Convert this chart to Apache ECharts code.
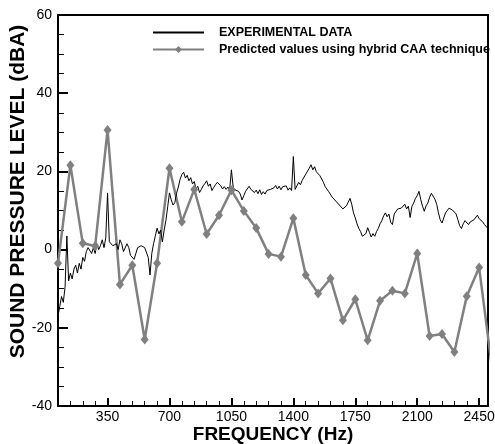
<!DOCTYPE html>
<html>
<head>
<meta charset="utf-8">
<script src="https://cdn.jsdelivr.net/npm/echarts@6/dist/echarts.min.js"></script>
<style>
  html, body { margin: 0; padding: 0; background: #fff; }
  #chart { width: 495px; height: 444px; }
</style>
</head>
<body>
<div id="chart"></div>
<script>
// 频率轴刻度（主刻度带标签）
var xTickLabels = [350, 700, 1050, 1400, 1750, 2100, 2450];

// 实测数据：从 70 Hz 起，每 10 Hz 一个读数 (dBA)
var expStartHz = 70;
var expStepHz = 10;
var expValues = [
    -17, -14.5, -12, -13.5, -9.5, 3.5, -8, -6, -7.5, -5,
    -4, -6, -3.5, -5, -2, -3, -0.5, 0.5, 1, -1,
    0.5, -1, 1.5, 0, 1, 2.5, 0.5, 3, 14.5, 2,
    2, 1, 0.5, 1.5, 0, 2.5, 1.5, -0.5, 0, 1.5,
    0.5, -1.5, -1, -2.5, -1, 0.5, 0, 1, 1.5, 0.5,
    1, -2, -6.5, -1, 1.5, 3.5, 5.5, 4, 5, 2,
    5, 7.5, 11, 14.5, 12.7, 11.4, 12, 14.4, 16, 18,
    19.2, 19.8, 18.3, 19.0, 17.6, 18.4, 16.8, 17.4, 15.6, 16.2,
    14.6, 15.4, 16.3, 16.9, 17.6, 16.2, 16.8, 15.1, 15.9, 16.6,
    17.2, 17.6, 16.3, 15.5, 16.1, 15.4, 16, 15.3, 20.4, 15.9,
    15.3, 15.8, 14.9, 14.2, 12.7, 13.8, 14.9, 15.3, 16.2, 15.4,
    15.9, 14.6, 15.2, 14.3, 15.3, 14.1, 14.8, 14.2, 15.1, 14.6,
    15.4, 14.9, 15.8, 16.4, 15.5, 16.2, 15.3, 16.1, 15.6, 16.3,
    15.2, 15.8, 15.1, 23.8, 15.4, 16.3, 17.2, 16.6, 17.7, 18.1,
    19.3, 19.6, 20.8, 21.7, 20.4, 21.2, 19.9, 20.1, 18.9, 18.6,
    17.2, 16.1, 15.6, 14.8, 14.5, 13.4, 13.8, 12.4, 12.8, 11.4,
    11.7, 10.4, 10.1, 11.2, 12.1, 13.1, 11.6, 9.4, 8.1, 6.6,
    5.4, 4.6, 3.4, 3.0, 4.1, 5.6, 4.4, 3.2, 4.1, 3.4,
    4.6, 5.4, 6.6, 7.4, 8.6, 9.4, 8.4, 9.1, 7.0, 6.4,
    9.1, 9.6, 10.4, 10.1, 10.6, 10.9, 11.6, 10.4, 11.1, 8.2,
    11.1, 11.9, 13.1, 13.8, 14.9, 12.8, 11.1, 9.8, 11.2, 11.9,
    13.4, 14.4, 14.8, 12.9, 11.6, 9.4, 7.6, 6.8, 8.1, 9.4,
    9.9, 10.6, 10.3, 10.1, 10.6, 9.1, 7.6, 6.1, 5.4, 6.6,
    7.4, 7.1, 6.4, 7.1, 6.6, 7.6, 7.9, 8.8, 7.9, 7.4,
    7.1, 6.4, 6.1, 5.4
];

// 混合 CAA 预测值
var predFreq = [
    70, 140, 210, 280, 350, 420, 490, 560, 630, 700,
    770, 840, 910, 980, 1050, 1120, 1190, 1260, 1330, 1400,
    1470, 1540, 1610, 1680, 1750, 1820, 1890, 1960, 2030, 2100,
    2170, 2240, 2310, 2380, 2450, 2520
];
var predValues = [
    -3.5, 21.6, 1.6, 0.9, 30.6, -8.9, -4.0, -23.0, -3.5, 20.8,
    7.1, 15.4, 4.0, 8.8, 15.2, 9.9, 5.5, -1.1, -1.8, 8.0,
    -6.5, -11.2, -7.4, -18.1, -12.7, -23.2, -13.1, -10.5, -11.2, -1.0,
    -22.1, -21.6, -26.2, -11.9, -4.6, -29.4
];

var FONT = '"Liberation Sans", Arial, sans-serif';

var expData = expValues.map(function(v, i) { return [expStartHz + i * expStepHz, v]; });
var predData = predValues.map(function(v, i) { return [predFreq[i], v]; });

var chart = echarts.init(document.getElementById('chart'), null, { renderer: 'canvas' });

// 只画边框的辅助轴（上、右）
var frameLine = { show: true, onZero: false, lineStyle: { color: '#000', width: 2 } };

var option = {
    animation: false,
    backgroundColor: '#fff',
    grid: {
        left: 58, right: 7, top: 15, bottom: 38,
        outerBoundsMode: 'none', containLabel: false
    },
    legend: {
        data: [
            { name: 'EXPERIMENTAL DATA', itemStyle: { opacity: 0 } },
            { name: 'Predicted values using hybrid CAA technique' }
        ],
        orient: 'vertical',
        left: 152, top: 26, padding: 0,
        itemWidth: 51, itemHeight: 9, itemGap: 4,
        selectedMode: false,
        textStyle: { fontFamily: FONT, fontWeight: 'bold', fontSize: 12.5, color: '#000', padding: [0, 0, 0, 10] }
    },
    xAxis: [{
        type: 'value', min: 70, max: 2500, interval: 70, position: 'bottom',
        name: 'FREQUENCY (Hz)', nameLocation: 'middle', nameGap: 19, nameMoveOverlap: false,
        nameTextStyle: { fontFamily: FONT, fontWeight: 'bold', fontSize: 19, color: '#000' },
        axisLine: frameLine,
        axisTick: { show: true, inside: true, length: 5, lineStyle: { color: '#000', width: 1 } },
        axisLabel: {
            margin: 4, fontFamily: FONT, fontSize: 14, color: '#000',
            formatter: function(v) { return xTickLabels.indexOf(v) >= 0 ? String(v) : ''; }
        },
        splitLine: { show: false }
    }, {
        type: 'value', min: 70, max: 2500, position: 'bottom',
        axisLine: { show: false, onZero: false },
        axisTick: { show: true, inside: true, length: 8, customValues: xTickLabels, lineStyle: { color: '#000', width: 2 } },
        axisLabel: { show: false },
        splitLine: { show: false }
    }, {
        type: 'value', min: 70, max: 2500, position: 'top',
        axisLine: frameLine,
        axisTick: { show: false },
        axisLabel: { show: false },
        splitLine: { show: false }
    }],
    yAxis: [{
        type: 'value', min: -40, max: 60, interval: 20, position: 'left',
        name: 'SOUND PRESSURE LEVEL (dBA)', nameLocation: 'middle', nameGap: 29, nameMoveOverlap: false,
        nameTextStyle: { fontFamily: FONT, fontWeight: 'bold', fontSize: 21, color: '#000', padding: [0, 0, 0, 38] },
        axisLine: frameLine,
        axisTick: { show: true, inside: true, length: 10, lineStyle: { color: '#000', width: 2 } },
        minorTick: { show: true, splitNumber: 4, length: 6, lineStyle: { color: '#000', width: 1 } },
        axisLabel: { margin: 6, fontFamily: FONT, fontSize: 14, color: '#000' },
        splitLine: { show: false }
    }, {
        type: 'value', min: -40, max: 60, position: 'right',
        axisLine: frameLine,
        axisTick: { show: false },
        axisLabel: { show: false },
        splitLine: { show: false }
    }],
    series: [{
        name: 'Predicted values using hybrid CAA technique',
        type: 'line',
        data: predData,
        symbol: 'diamond',
        symbolSize: [8, 10],
        lineStyle: { color: '#808080', width: 2.5 },
        itemStyle: { color: '#808080' }
    }, {
        name: 'EXPERIMENTAL DATA',
        type: 'line',
        data: expData,
        symbol: 'none',
        showSymbol: false,
        lineStyle: { color: '#000', width: 1 },
        itemStyle: { color: '#000' }
    }]
};

chart.setOption(option);
</script>
</body>
</html>
